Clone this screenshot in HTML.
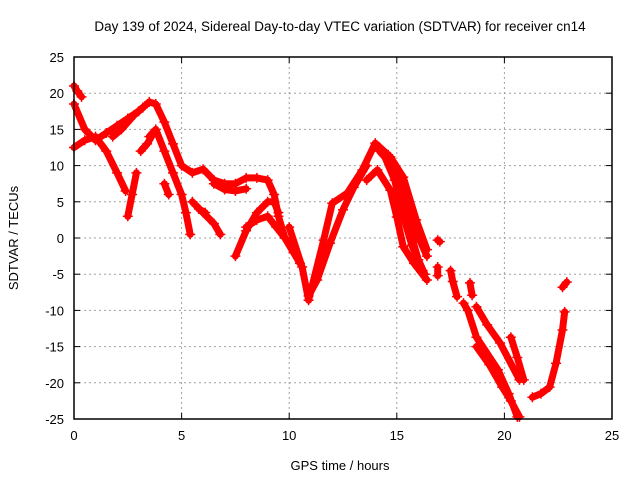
<!DOCTYPE html>
<html><head><meta charset="utf-8"><style>
body{margin:0;background:#fff;width:640px;height:480px;overflow:hidden}
svg text{font-family:"Liberation Sans",sans-serif;font-size:13px;fill:#000}
</style></head><body>
<svg id="chart" width="640" height="480" xmlns="http://www.w3.org/2000/svg">
<text x="340" y="31" text-anchor="middle" style="font-size:13.5px">Day 139 of 2024, Sidereal Day-to-day VTEC variation (SDTVAR) for receiver cn14</text>
<text x="340" y="470" text-anchor="middle">GPS time / hours</text>
<text transform="translate(18,238) rotate(-90)" text-anchor="middle">SDTVAR / TECUs</text>
<g id="grid"></g><g id="ticks"></g><g id="marks"></g>
<rect x="74" y="57" width="538" height="362" fill="none" stroke="#000" stroke-width="1.5"/>
</svg>
<script>
const xTicks=[0,5,10,15,20,25];
const yTicks=[25,20,15,10,5,0,-5,-10,-15,-20,-25];
const traceA=[[0,21],[0.15,20.3],[0.35,19.5]];
const traceB=[[0,18.5],[0.5,15],[1,13.5],[1.5,14.5],[2,15.5],[2.5,16.5],[3,17.5],[3.5,18.8],[3.8,18.5],[4.2,16],[4.6,13],[5,10],[5.5,9],[6,9.5],[6.5,8],[7,7.5],[7.5,7.5],[8,8.3],[8.5,8.3],[9,8],[9.3,6],[9.5,3],[9.8,0],[10.2,-2],[10.5,-3.5]];
const traceC=[[0,12.5],[0.5,13.5],[1,14],[1.5,12],[2,9],[2.4,6.5]];
const traceD=[[2.5,3],[2.7,6],[2.9,9]];
const traceE=[[1.8,14],[2.2,15],[2.8,17],[3.2,18]];
const traceF=[[3.5,14],[3.8,15],[4.2,12],[4.6,9],[5,6],[5.2,3.5],[5.4,0.5]];
const traceG=[[3.1,12],[3.4,13],[3.7,14.5]];
const traceH=[[4.2,7.5],[4.4,6]];
const traceI=[[5.5,5],[6,3.5],[6.5,2],[6.8,0.5]];
const traceJ=[[5.8,4],[6.1,3.5]];
const traceK=[[7.5,-2.5],[8,1],[8.5,3.5],[9,5],[9.3,5],[9.5,3.5]];
const traceL=[[8,1.5],[8.5,2.5],[9,3],[9.4,1.5],[9.8,0],[10.2,-1.5]];
const traceM=[[6.5,7.5],[7,6.7],[7.5,6.5],[8,6.8]];
const traceN=[[10,1.5],[10.6,-4],[10.9,-8.6],[11.6,-0.3],[12,4.8],[12.7,6.2],[13.4,9.4],[14,13.1],[14.7,11.2],[15.3,8.4],[15.9,2.5],[16.4,-1.6]];
const traceO=[[13.6,8],[14.1,9.4],[14.7,6.6],[15,2.9],[15.3,-1.2],[15.8,-3.5],[16.4,-5.8]];
const traceP=[[10.9,-8],[11.3,-5.8],[11.9,-0.7],[12.5,3.9],[13,7],[13.6,10]];
const traceQ=[[14.2,12],[14.8,10],[15.2,6],[15.6,1],[16,-3],[16.3,-5]];
const traceQ2=[[14.4,11.5],[14.9,8],[15.3,3],[15.7,-1],[16.2,-4.5]];
const traceQ3=[[14.1,12.5],[14.6,11.5],[15.1,8],[15.6,3],[16.1,-0.5],[16.4,-2.5]];
const traceR=[[16.9,-0.3],[17,-0.5]];
const traceS=[[16.9,-4],[16.9,-5.2]];
const traceT=[[17.5,-4.5],[17.6,-6],[17.8,-8.1]];
const traceU=[[18.4,-6.2],[18.5,-7.9]];
const traceV=[[18.1,-9],[18.3,-10],[18.7,-13.7],[19.7,-18.2],[20.2,-21.5],[20.6,-24.7]];
const traceW=[[18.7,-9.5],[19.2,-12],[19.8,-14.5],[20.7,-19.6]];
const traceX=[[20.3,-13.7],[20.6,-16.5],[20.9,-19.6]];
const traceY=[[18.7,-15],[19.3,-17.5],[19.9,-20.6],[20.3,-22.5],[20.7,-24.7]];
const traceZ=[[21.3,-22],[21.7,-21.5],[22.1,-20.6],[22.4,-17.3],[22.7,-12.7],[22.8,-10.2]];
const traceZ2=[[22.7,-6.8],[22.9,-6.1]];
const traces=[traceA,traceB,traceC,traceD,traceE,traceF,traceG,traceH,traceI,traceJ,traceK,traceL,traceM,traceN,traceO,traceP,traceQ,traceQ2,traceQ3,traceR,traceS,traceT,traceU,traceV,traceW,traceX,traceY,traceZ,traceZ2];

const NS="http://www.w3.org/2000/svg";
const X0=74,X1=612,Y0=419,Y1=57;
function sx(t){return X0+(t-0)/(25-0)*(X1-X0);}
function sy(v){return Y0-(v+25)/50*(Y0-Y1);}
function mk(tag,attrs,parent){const e=document.createElementNS(NS,tag);for(const k in attrs)e.setAttribute(k,attrs[k]);parent.appendChild(e);return e;}
const grid=document.getElementById('grid'),ticks=document.getElementById('ticks'),marks=document.getElementById('marks');
xTicks.forEach(t=>{
  const x=sx(t);
  if(t>0&&t<25){const g=mk('line',{x1:x,x2:x,y1:Y1,y2:Y0,stroke:'#a0a0a0','stroke-dasharray':'2,3'},grid);
  
  }
  mk('line',{x1:x,x2:x,y1:Y0,y2:Y0-6,stroke:'#000'},ticks);
  mk('line',{x1:x,x2:x,y1:Y1,y2:Y1+6,stroke:'#000'},ticks);
  const l=mk('text',{x:x,y:Y0+21,'text-anchor':'middle'},ticks);l.textContent=t;
  
  
});
yTicks.forEach(v=>{
  const y=sy(v);
  if(v>-25&&v<25){const g=mk('line',{x1:X0,x2:X1,y1:y,y2:y,stroke:'#a0a0a0','stroke-dasharray':'2,3'},grid);
  
  }
  mk('line',{x1:X0,x2:X0+6,y1:y,y2:y,stroke:'#000'},ticks);
  mk('line',{x1:X1,x2:X1-6,y1:y,y2:y,stroke:'#000'},ticks);
  const l=mk('text',{x:X0-10,y:y+5,'text-anchor':'end'},ticks);l.textContent=v;
  
  
});
traces.forEach(tr=>{
  const pts=tr.map(p=>sx(p[0])+','+sy(p[1])).join(' ');
  const pl=mk('polyline',{points:pts,fill:'none',stroke:'#ff0000','stroke-width':7,'stroke-linejoin':'round','stroke-linecap':'round'},marks);
  
  
  tr.forEach(p=>{
    const x=sx(p[0]),y=sy(p[1]);
    const m=mk('path',{d:`M${x-5},${y}H${x+5}M${x},${y-5}V${y+5}`,stroke:'#ff0000','stroke-width':1.5},marks);
    
    
  });
});
</script>
</body></html>
